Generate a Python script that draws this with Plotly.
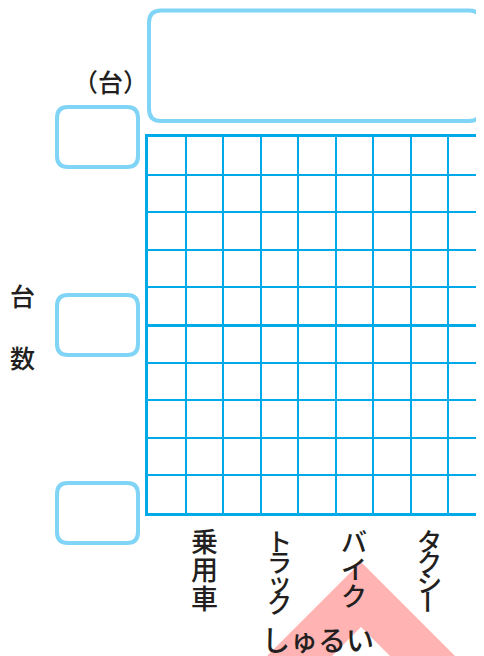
import plotly.graph_objects as go

# data (a blank worksheet graph: categories, y ticks to fill in)
categories = ["乗用車", "トラック", "バイク", "タクシー"]
y_ticks = [0, 5, 10]
y_max = 10
x_max = 8.96
axis_title = ["台", "数"]
unit_label = "（台）"
x_title = "しゅるい"

# layout numbers (the page puts the figure 8px in from the corner)
OFF = 8
W, H = 476, 648
L, R, T, B = 140, 0, 129, 143
PW, PH = W - L - R, H - T - B
grid_c = "#00A9E8"
box_c = "#80D4F5"
text_c = "#231F20"
font = "Noto Sans CJK JP"
# vertical spacing and size of stacked characters for each label
char_pitch = {"乗用車": 28.5, "トラック": 20.5, "バイク": 27, "タクシー": 20.5}
char_size = {"乗用車": 27, "トラック": 25, "バイク": 26, "タクシー": 25}


# page pixels -> paper coords
def px(x):
    return (x - OFF - L) / PW


def py(y):
    return (H - B - (y - OFF)) / PH


def rrect(x0, y0, x1, y1, r):
    pts = [
        ("M", x0 + r, y0), ("L", x1 - r, y0), ("Q", x1, y0, x1, y0 + r),
        ("L", x1, y1 - r), ("Q", x1, y1, x1 - r, y1), ("L", x0 + r, y1),
        ("Q", x0, y1, x0, y1 - r), ("L", x0, y0 + r), ("Q", x0, y0, x0 + r, y0),
    ]
    s = ""
    for p in pts:
        vals = p[1:]
        coords = []
        for i in range(0, len(vals), 2):
            coords.append(f"{px(vals[i]):.5f},{py(vals[i+1]):.5f}")
        s += p[0] + " ".join(coords) + " "
    return s + "Z"


fig = go.Figure()
# invisible trace so the axes exist
fig.add_trace(go.Scatter(x=[0, x_max], y=[0, y_max], mode="markers",
                         marker=dict(opacity=0), hoverinfo="skip", showlegend=False))

shapes = []
# pink chevron behind the x title
apex_x, top_y, in_y = 361, 562, 627
bot = 720
chev = [(apex_x - (bot - top_y), bot), (apex_x, top_y), (apex_x + (bot - top_y), bot),
        (apex_x + (bot - in_y), bot), (apex_x, in_y), (apex_x - (bot - in_y), bot)]
path = "M" + " L".join(f"{px(a):.5f},{py(b):.5f}" for a, b in chev) + " Z"
shapes.append(dict(type="path", path=path, xref="paper", yref="paper",
                   fillcolor="#FFB3B3", line=dict(width=0), layer="below"))

# title box
shapes.append(dict(type="path", path=rrect(149, 10.5, 481, 121, 12), xref="paper", yref="paper",
                   line=dict(color=box_c, width=4), fillcolor="rgba(0,0,0,0)"))
# blank boxes at the y ticks
for v in y_ticks:
    yc = OFF + T + (1 - v / y_max) * PH
    shapes.append(dict(type="path", path=rrect(57, yc - 30, 138, yc + 30, 11),
                       xref="paper", yref="paper",
                       line=dict(color=box_c, width=4), fillcolor="rgba(0,0,0,0)"))

ann = []
ann.append(dict(text=unit_label, x=px(110), y=py(81), xref="paper", yref="paper",
                xanchor="center", yanchor="middle", showarrow=False,
                font=dict(family=font, size=25, color=text_c, weight=500)))
for ch, yy in zip(axis_title, [295, 357]):
    ann.append(dict(text=ch, x=px(22), y=py(yy), xref="paper", yref="paper",
                    xanchor="center", yanchor="middle", showarrow=False,
                    font=dict(family=font, size=25, color=text_c, weight=500)))
ann.append(dict(text=x_title, x=px(318), y=py(639), xref="paper", yref="paper",
                xanchor="center", yanchor="middle", height=30, showarrow=False,
                font=dict(family=font, size=28, color=text_c, weight=500)))

# category labels written vertically under every other column
for i, cat in enumerate(categories):
    xpos = 2 * i + 1.5
    pitch = char_pitch[cat]
    for j, ch in enumerate(cat):
        cy = 540 + j * pitch
        ann.append(dict(text=ch, x=xpos, y=0, xref="x", yref="paper",
                        xanchor="center", yanchor="middle",
                        yshift=-(cy - OFF - (H - B)), showarrow=False,
                        textangle=90 if ch == "ー" else 0,
                        font=dict(family=font, size=char_size[cat], color=text_c, weight=500)))

fig.update_layout(
    width=W, height=H,
    margin=dict(l=L, r=R, t=T, b=B, pad=0),
    paper_bgcolor="white", plot_bgcolor="white",
    shapes=shapes, annotations=ann,
    xaxis=dict(range=[0, x_max], dtick=1, tick0=0, showgrid=True, gridcolor=grid_c,
               gridwidth=2, showline=True, linecolor=grid_c, linewidth=3, mirror=True,
               showticklabels=False, zeroline=False, ticks="", fixedrange=True),
    yaxis=dict(range=[0, y_max], tickvals=y_ticks, showgrid=True, gridcolor=grid_c,
               gridwidth=3, minor=dict(dtick=1, tick0=0, showgrid=True, gridcolor=grid_c, gridwidth=2),
               showline=True, linecolor=grid_c, linewidth=3,
               showticklabels=False, zeroline=False, ticks="", fixedrange=True),
    showlegend=False,
)

fig.write_html("out.html")
